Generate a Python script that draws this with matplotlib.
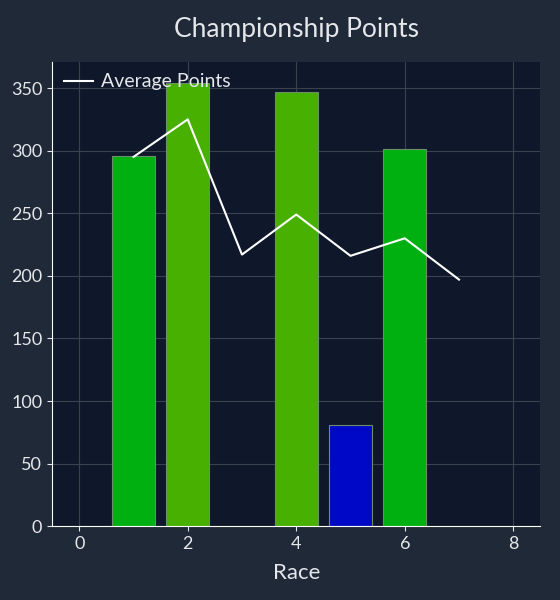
import matplotlib.pyplot as plt

races = [1, 2, 4, 5, 6]
points = [296, 354, 347, 81, 301]
bar_colors = ['#00b010', '#48b000', '#48b000', '#0008c8', '#00b010']

avg_races = [1, 2, 3, 4, 5, 6, 7]
avg_points = [295, 325, 217, 249, 216, 230, 197]

plt.rcParams['font.family'] = ['Lato', 'DejaVu Sans']

fig, ax = plt.subplots(figsize=(5.6, 6.0), dpi=100)
fig.patch.set_facecolor('#1f2937')
ax.set_facecolor('#0f172a')

ax.bar(races, points, width=0.8, color=bar_colors, edgecolor='#6b8f6b', linewidth=0.8, zorder=2)
ax.plot(avg_races, avg_points, color='white', linewidth=1.5, label='Average Points', zorder=3)

ax.set_xlim(-0.5, 8.5)
ax.set_ylim(0, 371)
ax.set_xticks([0, 2, 4, 6, 8])
ax.set_yticks(range(0, 351, 50))
ax.grid(True, color='#3a4250', linewidth=0.8, zorder=0)
ax.set_axisbelow(True)

for side in ['top', 'right']:
    ax.spines[side].set_visible(False)
for side in ['left', 'bottom']:
    ax.spines[side].set_color('white')
ax.tick_params(colors='#e5e7eb', labelsize=13)

ax.set_title('Championship Points', color='#e5e7eb', fontsize=19, pad=18)
ax.set_xlabel('Race', color='#e5e7eb', fontsize=16, labelpad=8)

leg = ax.legend(loc='upper left', frameon=False, fontsize=14, labelcolor='#e5e7eb',
                handlelength=1.5, handletextpad=0.4, borderaxespad=0.2)

fig.subplots_adjust(left=0.093, right=0.965, top=0.897, bottom=0.123)
fig.savefig('out.png', facecolor=fig.get_facecolor())
